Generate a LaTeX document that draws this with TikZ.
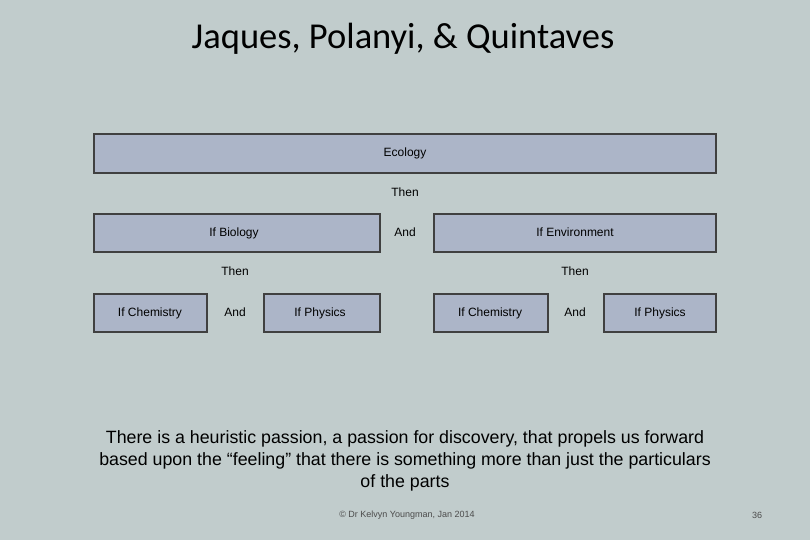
\documentclass[tikz,border=0pt]{standalone}
\usepackage{fontspec}
\setmainfont{Liberation Sans}
\newfontfamily\titlefont{Carlito}
\definecolor{bg}{RGB}{193,204,204}
\definecolor{boxfill}{RGB}{172,181,200}
\definecolor{boxline}{RGB}{64,64,64}
\begin{document}
\begin{tikzpicture}[x=1pt,y=-1pt,
  bx/.style={draw=boxline,line width=2.5pt,fill=boxfill},
  lbl/.style={font=\fontsize{12}{14}\selectfont,text=black,text height=9pt,text depth=2.5pt}]
\fill[bg] (0,0) rectangle (810,540);
\useasboundingbox (0,0) rectangle (810,540);
\node[font=\titlefont\fontsize{36.5}{40}\selectfont] (title) at (403,39) {Jaques, Polanyi, \& Quintaves};
\draw[bx] (94,134) rectangle (716,173); \node[lbl] (eco) at (405,153) {Ecology};
\node[lbl] (then1) at (405,193) {Then};
\draw[bx] (94,214) rectangle (380,252); \node[lbl] (bio) at (234,233) {If Biology};
\node[lbl] (and1) at (405,233) {And};
\draw[bx] (434,214) rectangle (716,252); \node[lbl] (env) at (575,233) {If Environment};
\node[lbl] (then2) at (235,272) {Then};
\node[lbl] (then3) at (575,272) {Then};
\draw[bx] (94,294) rectangle (207,332); \node[lbl] (c1) at (150,313) {If Chemistry};
\node[lbl] (a2) at (235,313) {And};
\draw[bx] (264,294) rectangle (380,332); \node[lbl] (p1) at (320,313) {If Physics};
\draw[bx] (434,294) rectangle (548,332); \node[lbl] (c2) at (490,313) {If Chemistry};
\node[lbl] (a3) at (575,313) {And};
\draw[bx] (604,294) rectangle (716,332); \node[lbl] (p2) at (660,313) {If Physics};
\node[font=\fontsize{17.8}{22}\selectfont,align=center] (txt) at (405,461) {There is a heuristic passion, a passion for discovery, that propels us forward\\based upon the “feeling” that there is something more than just the particulars\\of the parts};
\node[font=\fontsize{9}{11}\selectfont,text=black!70] (foot) at (407,515) {© Dr Kelvyn Youngman, Jan 2014};
\node[font=\fontsize{9}{11}\selectfont,text=black!70] (pg) at (757,515) {36};
\end{tikzpicture}
\end{document}
